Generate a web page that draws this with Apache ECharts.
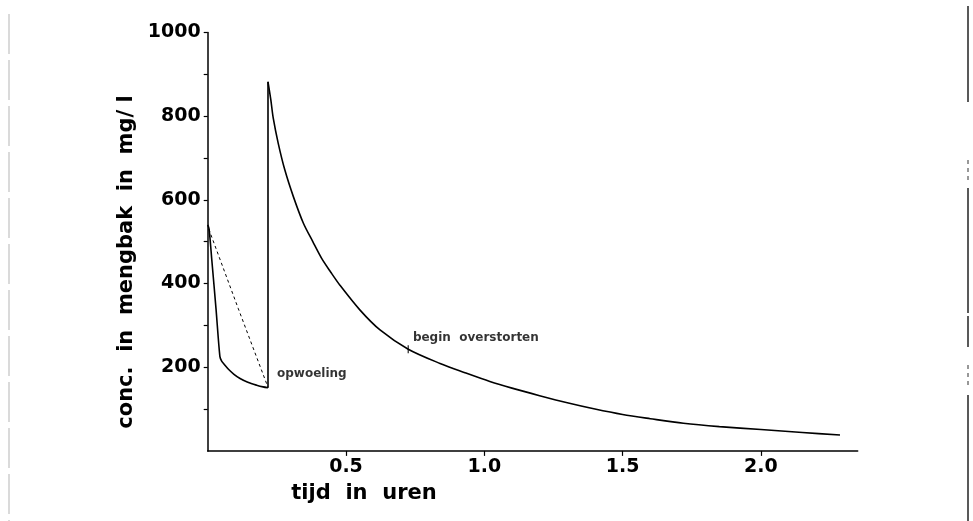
<!DOCTYPE html>
<html>
<head>
<meta charset="utf-8">
<script src="https://cdn.jsdelivr.net/npm/echarts@6/dist/echarts.min.js"></script>
<style>
html,body{margin:0;padding:0;background:#fff;}
#chart{width:973px;height:521px;}
</style>
</head>
<body>
<div id="chart"></div>
<script>
// ---- data ----
const xTicks = [0.5, 1.0, 1.5, 2.0];
const yLabels = [200, 400, 600, 800, 1000];
const yTicks = [100, 200, 300, 400, 500, 600, 700, 800, 900, 1000];

// solid line, part 1: first filling (t in hours, conc. in mg/l)
const fillT = [0, 0.005, 0.015, 0.03, 0.044, 0.05, 0.058, 0.075, 0.095, 0.117, 0.145, 0.177, 0.2, 0.218];
const fillC = [540, 530, 455, 340, 226, 215, 208, 195, 183, 173, 164, 157, 153, 151];

// solid line, part 2: after stirring up ("opwoeling")
const decayT = [0.218, 0.228, 0.237, 0.255, 0.279, 0.31, 0.346, 0.38, 0.412, 0.445, 0.478, 0.55, 0.623, 0.725, 0.84, 0.93,
  1.02, 1.1, 1.2, 1.3, 1.4, 1.5, 1.6, 1.72, 1.85, 2.0, 2.15, 2.286];
const decayC = [882, 840, 795, 735, 671, 607, 544, 500, 460, 427, 396, 337, 289, 243, 209, 187,
  166, 150, 132, 115, 100, 87, 77, 66, 58, 51, 44, 38];

// dashed line
const dashT = [0.004, 0.11, 0.218];
const dashC = [530, 341, 152];

// annotations
const noteT = [0.725, 0.218];
const noteC = [243, 152];
const noteText = ['begin  overstorten', 'opwoeling'];

const FONT = 'DejaVu Sans';

const chart = echarts.init(document.getElementById('chart'), null, {renderer: 'canvas'});

const noteLabel = (i) => ({
  show: true, position: 'right', formatter: noteText[i],
  distance: i === 0 ? 4 : 9,
  offset: i === 0 ? [0, -11] : [0, -13],
  color: '#000', fontFamily: FONT, fontWeight: 'bold', fontSize: 12
});

const solidStyle = {color: '#000', width: 1.6};
const pairs = (a, b) => a.map((t, i) => [t, b[i]]);

const option = {
  animation: false,
  backgroundColor: '#ffffff',
  grid: {left: 207.7, right: 115.3, top: 32.4, bottom: 70.1, containLabel: false, outerBoundsMode: 'none'},
  xAxis: {
    type: 'value', min: 0, max: 2.35, interval: 0.5,
    axisLine: {show: true, onZero: false, lineStyle: {color: '#000', width: 1.5}},
    axisTick: {show: true, length: 5, inside: false, customValues: xTicks, lineStyle: {color: '#000', width: 1.2}},
    axisLabel: {show: true, customValues: xTicks, margin: 7, color: '#000', fontFamily: FONT, fontWeight: 'bold', fontSize: 19,
      formatter: v => v.toFixed(1)},
    splitLine: {show: false}
  },
  yAxis: {
    type: 'value', min: 0, max: 1000, interval: 200,
    axisLine: {show: true, onZero: false, lineStyle: {color: '#000', width: 1.5}},
    axisTick: {show: true, length: 4, inside: false, customValues: yTicks, lineStyle: {color: '#000', width: 1.2}},
    axisLabel: {show: true, customValues: yLabels, margin: 7, color: '#000', fontFamily: FONT, fontWeight: 'bold', fontSize: 19,
      formatter: v => String(Math.round(v))},
    splitLine: {show: false}
  },
  series: [
    {type: 'line', name: 'fill', showSymbol: false, symbol: 'none', smooth: 0.3,
      data: pairs(fillT, fillC), lineStyle: solidStyle},
    {type: 'line', name: 'jump', showSymbol: false, symbol: 'none',
      data: [[fillT[fillT.length - 1], fillC[fillC.length - 1]], [decayT[0], decayC[0]]], lineStyle: solidStyle},
    {type: 'line', name: 'decay', showSymbol: false, symbol: 'none', smooth: 0.3,
      data: pairs(decayT, decayC), lineStyle: solidStyle},
    {type: 'line', name: 'dashed', showSymbol: false, symbol: 'none',
      data: pairs(dashT, dashC), lineStyle: {color: '#000', width: 1, type: [3, 3]}},
    {
      type: 'scatter', name: 'notes',
      data: noteT.map((t, i) => ({
        value: [t, noteC[i]],
        symbol: 'rect',
        symbolSize: i === 0 ? [1.3, 8] : [0.01, 0.01],
        label: noteLabel(i)
      })),
      itemStyle: {color: '#000'},
      silent: true
    }
  ],
  graphic: [
    {type: 'text', x: 127, y: 262, rotation: Math.PI / 2,
      style: {text: 'conc.  in  mengbak  in  mg/ l', fill: '#000', font: 'bold 21px "DejaVu Sans"', align: 'center', verticalAlign: 'middle'}},
    {type: 'text', x: 364, y: 494,
      style: {text: 'tijd  in  uren', fill: '#000', font: 'bold 21px "DejaVu Sans"', align: 'center', verticalAlign: 'middle'}},
    // scan edge lines
    {type: 'line', shape: {x1: 9, y1: 14, x2: 9, y2: 521}, style: {stroke: '#b5b5b5', lineWidth: 1, lineDash: [40, 6]}},
    {type: 'line', shape: {x1: 968, y1: 6, x2: 968, y2: 102}, style: {stroke: '#222', lineWidth: 1.5}},
    {type: 'line', shape: {x1: 968, y1: 160, x2: 968, y2: 180}, style: {stroke: '#555', lineWidth: 1.2, lineDash: [4, 4]}},
    {type: 'line', shape: {x1: 968, y1: 188, x2: 968, y2: 313}, style: {stroke: '#222', lineWidth: 1.5}},
    {type: 'line', shape: {x1: 968, y1: 316, x2: 968, y2: 347}, style: {stroke: '#222', lineWidth: 1.5}},
    {type: 'line', shape: {x1: 968, y1: 365, x2: 968, y2: 388}, style: {stroke: '#555', lineWidth: 1.2, lineDash: [4, 4]}},
    {type: 'line', shape: {x1: 968, y1: 395, x2: 968, y2: 521}, style: {stroke: '#222', lineWidth: 1.5}}
  ]
};
chart.setOption(option);
</script>
</body>
</html>
